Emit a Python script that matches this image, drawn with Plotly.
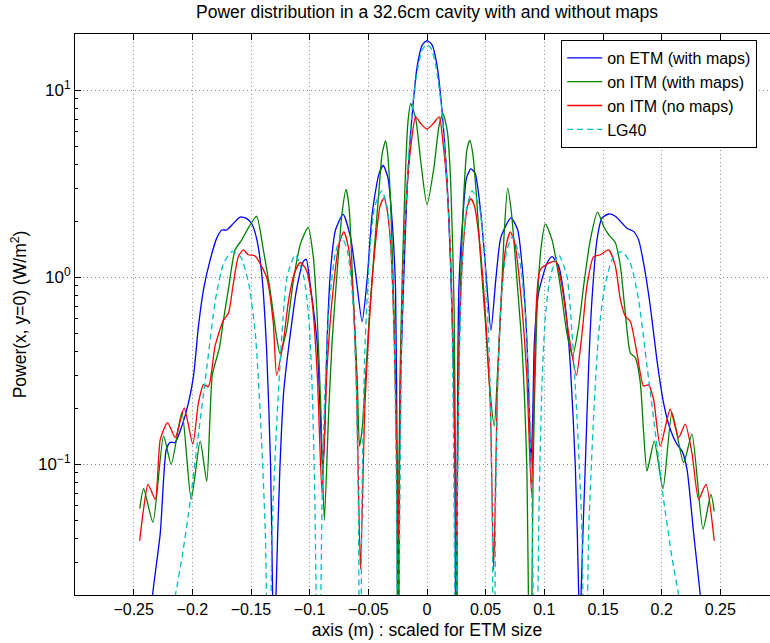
import plotly.graph_objects as go

# ---------------- data ----------------
etm_x = [-0.2365, -0.2339, -0.2273, -0.2222, -0.2188, -0.2146, -0.2089, -0.2033, -0.199, -0.1948,
         -0.1905, -0.1848, -0.1792, -0.1749, -0.1707, -0.1664, -0.1593, -0.1537, -0.1494, -0.1452,
         -0.1409, -0.1367, -0.1333, -0.1316, -0.1302, -0.1287, -0.1253, -0.122, -0.1168, -0.1112,
         -0.1055, -0.103, -0.0994, -0.0937, -0.0905, -0.0889, -0.087, -0.0852, -0.0823, -0.078,
         -0.0715, -0.0652, -0.061, -0.0553, -0.051, -0.0467, -0.041, -0.0373, -0.0333, -0.0296,
         -0.0268, -0.0255, -0.0245, -0.0235, -0.0225, -0.0196, -0.0168, -0.0125, -0.0083, -0.004,
         0.0, 0.0043, 0.0086, 0.0128, 0.0171, 0.02, 0.0228, 0.0238, 0.0248, 0.0258,
         0.0271, 0.0302, 0.0337, 0.0374, 0.041, 0.0459, 0.0502, 0.0545, 0.0587, 0.063,
         0.0716, 0.0773, 0.0815, 0.0852, 0.0872, 0.0886, 0.0902, 0.0915, 0.095, 0.1023,
         0.1065, 0.1122, 0.1179, 0.1222, 0.1264, 0.1293, 0.1303, 0.1313, 0.1349, 0.1378,
         0.1406, 0.1449, 0.1491, 0.1548, 0.1605, 0.1662, 0.1704, 0.1761, 0.1803, 0.1846,
         0.1903, 0.1959, 0.2016, 0.2073, 0.213, 0.2173, 0.2216, 0.2272, 0.2329, 0.236]
etm_y = [0.012, 0.02, 0.043, 0.12, 0.131, 0.131, 0.16, 0.213, 0.296, 0.546,
         0.86, 1.24, 1.62, 1.79, 1.79, 1.9, 2.1, 2.06, 1.94, 1.61,
         1.05, 0.41, 0.098, 0.02, 0.002, 0.02, 0.098, 0.25, 0.48, 0.86,
         1.21, 1.25, 0.9, 0.45, 0.154, 0.092, 0.16, 0.45, 1.07, 1.79,
         2.17, 1.64, 1.07, 0.58, 0.98, 2.2, 3.56, 3.96, 3.4, 1.95,
         0.86, 0.1, 0.002, 0.1, 0.29, 1.07, 3.1, 7.6, 13.5, 17.5,
         18.4, 17.5, 13.5, 7.8, 3.3, 1.2, 0.29, 0.1, 0.002, 0.1,
         0.86, 1.95, 3.4, 3.8, 3.6, 2.2, 1.07, 0.52, 0.98, 1.64,
         2.08, 1.79, 1.07, 0.45, 0.19, 0.1, 0.19, 0.45, 0.82, 1.19,
         1.29, 1.15, 0.7, 0.335, 0.098, 0.02, 0.002, 0.02, 0.098, 0.335,
         0.76, 1.59, 2.07, 2.18, 2.12, 1.95, 1.83, 1.76, 1.59, 1.19,
         0.7, 0.363, 0.213, 0.154, 0.128, 0.118, 0.094, 0.043, 0.02, 0.012]

itm_maps_x = [-0.2448, -0.2415, -0.2336, -0.2245, -0.218, -0.2089, -0.201, -0.1933, -0.1877, -0.183,
              -0.1769, -0.1735, -0.1693, -0.1636, -0.158, -0.152, -0.1452, -0.1395, -0.1338, -0.1282,
              -0.1253, -0.1197, -0.114, -0.108, -0.1013, -0.097, -0.0935, -0.0905, -0.0875, -0.0838,
              -0.0809, -0.0766, -0.0724, -0.069, -0.0665, -0.0624, -0.0595, -0.0575, -0.0553, -0.0524,
              -0.0496, -0.0453, -0.041, -0.0382, -0.0353, -0.0339, -0.031, -0.0282, -0.0258, -0.0248,
              -0.0238, -0.023, -0.021, -0.0182, -0.0162, -0.0139, -0.0097, -0.0054, 0.0, 0.006,
              0.0103, 0.0137, 0.0174, 0.0203, 0.0231, 0.0242, 0.025, 0.026, 0.028, 0.031,
              0.034, 0.0365, 0.039, 0.042, 0.0455, 0.05, 0.053, 0.0573, 0.06, 0.063,
              0.0655, 0.0687, 0.072, 0.0765, 0.081, 0.085, 0.088, 0.0905, 0.0935, 0.097,
              0.1009, 0.1065, 0.1136, 0.1193, 0.1241, 0.1293, 0.1335, 0.1392, 0.1454, 0.1506,
              0.1548, 0.1605, 0.1648, 0.169, 0.1733, 0.1776, 0.1818, 0.1846, 0.1875, 0.1937,
              0.2011, 0.2088, 0.2187, 0.2258, 0.2352, 0.242, 0.2448]
itm_maps_y = [0.058, 0.074, 0.049, 0.142, 0.1, 0.19, 0.065, 0.133, 0.081, 0.3,
              0.42, 0.59, 0.86, 1.4, 1.58, 1.85, 2.12, 1.4, 0.86, 0.48,
              0.39, 0.52, 0.95, 1.5, 1.85, 1.3, 0.6, 0.2, 0.05, 0.19,
              0.45, 1.07, 2.2, 2.95, 2.4, 0.69, 0.29, 0.125, 0.154, 0.29,
              0.56, 1.32, 2.87, 4.6, 5.36, 4.8, 2.5, 0.69, 0.1, 0.002,
              0.1, 0.29, 1.07, 3.9, 6.8, 8.5, 7.1, 4.2, 2.44, 3.9,
              6.5, 7.5, 6.0, 3.1, 0.69, 0.1, 0.002, 0.1, 0.7, 2.5,
              4.8, 5.4, 4.6, 2.8, 1.3, 0.55, 0.28, 0.16, 0.3, 0.7,
              1.6, 3.0, 2.2, 1.0, 0.42, 0.1, 0.003, 0.1, 0.6, 1.4,
              1.93, 1.59, 0.9, 0.5, 0.38, 0.55, 0.9, 1.59, 2.23, 1.87,
              1.69, 1.53, 1.15, 0.645, 0.394, 0.371, 0.273, 0.148, 0.092, 0.133,
              0.074, 0.189, 0.102, 0.145, 0.045, 0.069, 0.056]

itm_nomaps_x = [-0.2449, -0.2415, -0.2378, -0.2316, -0.2273, -0.2211, -0.2146, -0.207, -0.1996, -0.1948,
                -0.1905, -0.1863, -0.1806, -0.1735, -0.1693, -0.165, -0.1608, -0.1565, -0.1523, -0.1466,
                -0.1367, -0.131, -0.1282, -0.1225, -0.118, -0.113, -0.108, -0.103, -0.098, -0.0935,
                -0.0895, -0.0855, -0.0805, -0.075, -0.0709, -0.067, -0.063, -0.06, -0.0567, -0.053,
                -0.049, -0.044, -0.04, -0.0367, -0.034, -0.031, -0.028, -0.0255, -0.0245, -0.0235,
                -0.0225, -0.02, -0.017, -0.0135, -0.0097, -0.005, 0.0, 0.005, 0.0103, 0.014,
                0.0175, 0.0205, 0.0228, 0.0238, 0.025, 0.026, 0.0272, 0.031, 0.0345, 0.0374,
                0.0405, 0.045, 0.05, 0.054, 0.0568, 0.06, 0.0635, 0.0672, 0.071, 0.075,
                0.08, 0.085, 0.089, 0.092, 0.0966, 0.1094, 0.115, 0.1207, 0.1273, 0.1321,
                0.1363, 0.142, 0.1477, 0.1548, 0.1605, 0.1648, 0.169, 0.1733, 0.1789, 0.1846,
                0.1889, 0.1931, 0.1988, 0.2073, 0.2144, 0.2201, 0.2258, 0.2315, 0.2377, 0.2448]
itm_nomaps_y = [0.039, 0.058, 0.078, 0.065, 0.136, 0.167, 0.139, 0.2, 0.128, 0.213,
                0.267, 0.26, 0.43, 0.59, 0.64, 0.93, 1.29, 1.4, 1.32, 1.3,
                1.0, 0.57, 0.3, 0.45, 0.75, 1.05, 1.2, 1.1, 0.75, 0.3,
                0.07, 0.3, 0.8, 1.5, 1.75, 1.45, 0.8, 0.25, 0.0275, 0.2,
                0.6, 1.5, 2.4, 2.66, 2.3, 1.5, 0.5, 0.1, 0.04, 0.1,
                0.3, 1.3, 3.0, 5.2, 7.2, 6.6, 6.2, 6.6, 7.2, 5.0,
                2.8, 1.1, 0.3, 0.1, 0.04, 0.1, 0.4, 1.5, 2.4, 2.63,
                2.4, 1.5, 0.6, 0.2, 0.027, 0.25, 0.8, 1.45, 1.75, 1.5,
                0.8, 0.3, 0.07, 0.4, 1.1, 1.22, 0.9, 0.5, 0.3, 0.5,
                0.9, 1.29, 1.32, 1.4, 1.15, 0.76, 0.62, 0.58, 0.394, 0.262,
                0.266, 0.222, 0.125, 0.197, 0.139, 0.164, 0.115, 0.065, 0.078, 0.039]

lg40_x = [-0.22, -0.2144, -0.2087, -0.2016, -0.1946, -0.1875, -0.1803, -0.1733, -0.1662, -0.159,
          -0.152, -0.1463, -0.142, -0.1378, -0.1345, -0.1321, -0.1278, -0.1236, -0.1193, -0.1122,
          -0.1051, -0.1009, -0.098, -0.0955, -0.0925, -0.0895, -0.087, -0.083, -0.078, -0.073,
          -0.068, -0.0635, -0.0605, -0.0585, -0.057, -0.0555, -0.053, -0.049, -0.0445, -0.0385,
          -0.0335, -0.03, -0.0275, -0.0258, -0.0245, -0.0232, -0.0215, -0.0195, -0.0165, -0.0125,
          -0.008, -0.004, 0.0, 0.004, 0.008, 0.0125, 0.0165, 0.0195, 0.0215, 0.0232,
          0.0245, 0.0258, 0.0275, 0.03, 0.0335, 0.0385, 0.0445, 0.049, 0.053, 0.0555,
          0.057, 0.0585, 0.0605, 0.0635, 0.068, 0.073, 0.078, 0.083, 0.087, 0.0895,
          0.0925, 0.0955, 0.098, 0.1009, 0.1051, 0.1122, 0.1193, 0.1236, 0.1278, 0.1321,
          0.1345, 0.1378, 0.142, 0.1463, 0.152, 0.159, 0.1662, 0.1733, 0.1803, 0.1875,
          0.1946, 0.2016, 0.2087, 0.2144, 0.22]
lg40_y = [0.012, 0.02, 0.032, 0.065, 0.148, 0.335, 0.76, 1.19, 1.37, 1.29,
          0.93, 0.5, 0.18, 0.043, 0.002, 0.043, 0.18, 0.5, 1.01, 1.32,
          1.01, 0.62, 0.27, 0.06, 0.002, 0.06, 0.25, 0.75, 1.35, 1.65,
          1.4, 0.8, 0.3, 0.06, 0.002, 0.06, 0.4, 1.3, 2.4, 2.9,
          2.3, 1.2, 0.35, 0.05, 0.002, 0.05, 0.5, 1.5, 3.6, 8.0,
          13.0, 16.5, 17.6, 16.5, 13.0, 8.0, 3.6, 1.5, 0.5, 0.05,
          0.002, 0.05, 0.35, 1.2, 2.3, 2.9, 2.4, 1.3, 0.4, 0.06,
          0.002, 0.06, 0.3, 0.8, 1.4, 1.65, 1.35, 0.75, 0.25, 0.06,
          0.002, 0.06, 0.27, 0.62, 1.01, 1.32, 1.01, 0.5, 0.18, 0.043,
          0.002, 0.043, 0.18, 0.5, 0.93, 1.29, 1.37, 1.19, 0.76, 0.335,
          0.148, 0.065, 0.032, 0.02, 0.012]

series_names = ["on ETM (with maps)", "on ITM (with maps)", "on ITM (no maps)", "LG40"]
series_colors = ["#0000ff", "#008000", "#ff0000", "#00bfbf"]

x_tick_vals = [-0.25, -0.2, -0.15, -0.1, -0.05, 0, 0.05, 0.1, 0.15, 0.2, 0.25]
x_tick_text = ["\u22120.25", "\u22120.2", "\u22120.15", "\u22120.1", "\u22120.05", "0",
               "0.05", "0.1", "0.15", "0.2", "0.25"]
y_tick_vals = [0.1, 1, 10]
y_tick_text = ["10<sup>\u22121</sup>", "10<sup>0</sup>", "10<sup>1</sup>"]
y_minor_vals = [0.02, 0.03, 0.04, 0.05, 0.06, 0.07, 0.08, 0.09,
                0.2, 0.3, 0.4, 0.5, 0.6, 0.7, 0.8, 0.9,
                2, 3, 4, 5, 6, 7, 8, 9, 20]

FONT = "Liberation Sans, Arial, Helvetica, sans-serif"

W, H = 800, 643
L, T, B = 75, 34, 48
PLOT_RIGHT = 778.7
R = W - PLOT_RIGHT

fig = go.Figure()
all_x = [etm_x, itm_maps_x, itm_nomaps_x, lg40_x]
all_y = [etm_y, itm_maps_y, itm_nomaps_y, lg40_y]
for i in range(4):
    fig.add_trace(go.Scatter(
        x=all_x[i], y=all_y[i], mode="lines", name=series_names[i],
        line=dict(color=series_colors[i], width=1.3, shape="spline", smoothing=0.6,
                  dash="6px,4px" if i == 3 else "solid"),
    ))

fig.update_layout(
    width=W, height=H,
    margin=dict(l=L, r=R, t=T, b=B, autoexpand=False),
    paper_bgcolor="white", plot_bgcolor="white",
    font=dict(family=FONT, size=16, color="black"),
    title=dict(text="Power distribution in a 32.6cm cavity with and without maps",
               xref="container", x=427 / W, xanchor="center",
               yref="container", y=1 - 12 / H, yanchor="middle",
               font=dict(size=17.5, family=FONT, color="black")),
    showlegend=True,
    legend=dict(x=(561 - L) / (PLOT_RIGHT - L), y=1 - (40 - T) / (H - T - B),
                xanchor="left", yanchor="top",
                bgcolor="white", bordercolor="black", borderwidth=1,
                font=dict(size=16, family=FONT), tracegroupgap=0, itemwidth=35),
)

fig.update_xaxes(
    range=[-0.3, 0.3], showline=True, linecolor="black", linewidth=1,
    mirror="ticks", ticks="inside", ticklen=6, tickcolor="black",
    tickvals=x_tick_vals, ticktext=x_tick_text,
    showgrid=True, gridcolor="#8c8c8c", griddash="1px,3px", gridwidth=1,
    zeroline=False, tickfont=dict(size=16),
    title=dict(text="axis (m) : scaled for ETM size", font=dict(size=17.5), standoff=6),
)
fig.update_yaxes(
    type="log", range=[-1.69897, 1.30103], showline=True, linecolor="black", linewidth=1,
    mirror=False, ticks="inside", ticklen=6, tickcolor="black",
    tickvals=y_tick_vals, ticktext=y_tick_text,
    minor=dict(ticks="inside", ticklen=3, tickcolor="black", tickvals=y_minor_vals, showgrid=False),
    showgrid=True, gridcolor="#8c8c8c", griddash="1px,3px", gridwidth=1,
    zeroline=False, tickfont=dict(size=17),
    title=dict(text="Power(x, y=0) (W/m<sup>2</sup>)", font=dict(size=17.5), standoff=6),
)

fig.write_html("out.html",
               config={"displayModeBar": False},
               post_script="document.body.style.margin='0px';document.body.style.overflow='hidden';")
